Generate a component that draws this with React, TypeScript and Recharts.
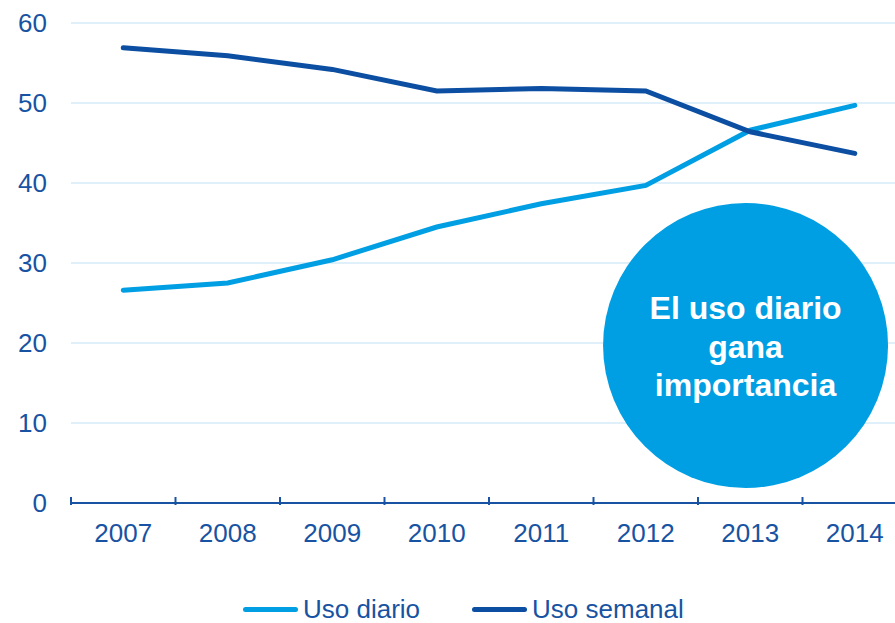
import { CartesianGrid, Legend, Line, LineChart, ReferenceDot, XAxis, YAxis } from "recharts";

const YEARS = ["2007", "2008", "2009", "2010", "2011", "2012", "2013", "2014"];
const USO_DIARIO = [26.6, 27.5, 30.4, 34.5, 37.4, 39.7, 46.6, 49.7];
const USO_SEMANAL = [56.9, 55.9, 54.2, 51.5, 51.8, 51.5, 46.4, 43.7];
const Y_TICKS = [0, 10, 20, 30, 40, 50, 60];
const CALLOUT_LINES = ["El uso diario", "gana", "importancia"];

const SERIES = [
  { key: "diario", name: "Uso diario", color: "#009fe3" },
  { key: "semanal", name: "Uso semanal", color: "#0b4ea2" },
];

const TEXT_COLOR = "#1753a2";
const FONT = "'Liberation Sans', Arial, sans-serif";

// points sit in the middle of each year band, tick marks on the band edges
const chartData = YEARS.map((year, i) => ({
  x: i + 0.5,
  year,
  diario: USO_DIARIO[i],
  semanal: USO_SEMANAL[i],
}));
const xTicks = [...YEARS.map((_, i) => i), YEARS.length, ...YEARS.map((_, i) => i + 0.5)].sort((a, b) => a - b);

function YearTick({ x, y, payload }: any) {
  const v = payload.value as number;
  if (Number.isInteger(v)) {
    return <line x1={x} x2={x} y1={y - 14} y2={y - 6} stroke={TEXT_COLOR} strokeWidth={2} />;
  }
  return (
    <text x={x} y={y + 31} textAnchor="middle" fill={TEXT_COLOR} fontSize={26} fontFamily={FONT}>
      {YEARS[Math.floor(v)]}
    </text>
  );
}

function CalloutLabel({ viewBox }: any) {
  const cx = viewBox.x + viewBox.width / 2;
  const cy = viewBox.y + viewBox.height / 2;
  return (
    <text textAnchor="middle" fill="#fff" fontSize={32} fontWeight="bold" fontFamily={FONT}>
      {CALLOUT_LINES.map((t, i) => (
        <tspan key={t} x={cx} y={cy - 26 + i * 38.5}>
          {t}
        </tspan>
      ))}
    </text>
  );
}

function LegendContent() {
  return (
    <div style={{ display: "flex", alignItems: "center", marginLeft: 243, fontFamily: FONT, fontSize: 26, color: TEXT_COLOR }}>
      {SERIES.map((s, i) => (
        <div key={s.key} style={{ display: "flex", alignItems: "center", marginLeft: i ? 52 : 0 }}>
          <span style={{ width: 55, height: 5, borderRadius: 3, background: s.color, marginRight: 5, marginTop: 1 }} />
          <span style={{ lineHeight: "30px" }}>{s.name}</span>
        </div>
      ))}
    </div>
  );
}

export default function App() {
  return (
    <div style={{ position: "fixed", left: 0, top: 0, width: 895, height: 623, overflow: "hidden", background: "#fff" }}>
      <LineChart width={910} height={623} data={chartData} margin={{ top: 23, right: 3, left: 0, bottom: 0 }}>
        <CartesianGrid vertical={false} stroke="#d5ebf8" strokeWidth={1.5} />
        <YAxis
          domain={[0, 60]}
          ticks={Y_TICKS}
          width={71}
          axisLine={false}
          tickLine={false}
          tickMargin={18}
          tick={{ fill: TEXT_COLOR, fontSize: 26, fontFamily: FONT }}
        />
        <XAxis
          dataKey="x"
          type="number"
          domain={[0, YEARS.length]}
          ticks={xTicks}
          interval={0}
          height={90}
          stroke={TEXT_COLOR}
          strokeWidth={2}
          tickLine={false}
          tick={<YearTick />}
        />
        <ReferenceDot
          x={6.455}
          y={19.69}
          r={142.5}
          fill="#009fe3"
          stroke="none"
          ifOverflow="visible"
          label={<CalloutLabel />}
        />
        {SERIES.map((s) => (
          <Line
            key={s.key}
            dataKey={s.key}
            name={s.name}
            stroke={s.color}
            strokeWidth={5}
            strokeLinecap="round"
            dot={false}
            activeDot={false}
            isAnimationActive={false}
          />
        ))}
        <Legend verticalAlign="bottom" align="left" content={<LegendContent />} wrapperStyle={{ left: 0, bottom: -1 }} />
      </LineChart>
    </div>
  );
}
